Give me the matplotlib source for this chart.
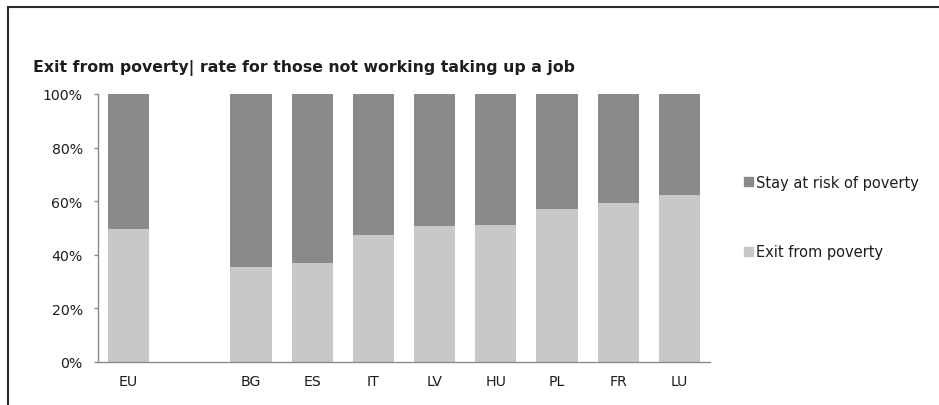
import matplotlib
matplotlib.use("Agg")
import matplotlib.pyplot as plt
from matplotlib.patches import Patch, Rectangle
from matplotlib.ticker import PercentFormatter

# countries, with an empty slot between the EU and the member states
countries = ["EU", "", "BG", "ES", "IT", "LV", "HU", "PL", "FR", "LU"]
exit_share = [49.5, None, 35.5, 36.8, 47.5, 50.9, 51.1, 57.1, 59.3, 62.4]

dark = "#8a8a8a"
light = "#c8c8c8"
text_col = "#1e1e1e"
axis_col = "#8c8c8c"

plt.rcParams["font.family"] = ["DejaVu Sans"]

W, H = 939, 406
fig = plt.figure(figsize=(W / 100, H / 100), dpi=100)

# outer frame of the chart area
fig.patches.append(Rectangle((7.5 / W, -0.1), 1.2, (H - 8) / H + 0.1,
                             transform=fig.transFigure, fill=False,
                             edgecolor="#2a2a2a", linewidth=1.5))

ax = fig.add_axes([98 / W, (H - 363) / H, (710 - 98) / W, (363 - 95) / H])

for i, v in enumerate(exit_share):
    if v is None:
        continue
    ax.bar(i, v, width=0.67, color=light, linewidth=0)
    ax.bar(i, 100 - v, bottom=v, width=0.67, color=dark, linewidth=0)

ax.set_xlim(-0.5, len(countries) - 0.5)
ax.set_ylim(0, 100)
ax.set_yticks(range(0, 101, 20))
ax.yaxis.set_major_formatter(PercentFormatter(decimals=0))
ax.set_xticks(range(len(countries)))
ax.set_xticklabels(countries)

for s in ["top", "right"]:
    ax.spines[s].set_visible(False)
for s in ["left", "bottom"]:
    ax.spines[s].set_color(axis_col)
    ax.spines[s].set_linewidth(1.0)
ax.tick_params(axis="y", length=3, width=1.0, color=axis_col,
               labelsize=10.2, labelcolor=text_col, pad=8)
ax.tick_params(axis="x", length=0, labelsize=10.2, labelcolor=text_col, pad=9)

fig.text(33 / W, (H - 72) / H,
         "Exit from poverty| rate for those not working taking up a job",
         fontsize=11.3, fontweight="bold", color=text_col, va="baseline")

handles = [Patch(color=dark, label="Stay at risk of poverty"),
           Patch(color=light, label="Exit from poverty")]
fig.legend(handles=handles, loc="center left",
           bbox_to_anchor=(731 / W, (H - 218) / H),
           frameon=False, fontsize=10.5, handlelength=0.6, handleheight=0.6,
           handletextpad=0.2, labelspacing=3.75, labelcolor=text_col)

fig.savefig("out.png", dpi=100)
